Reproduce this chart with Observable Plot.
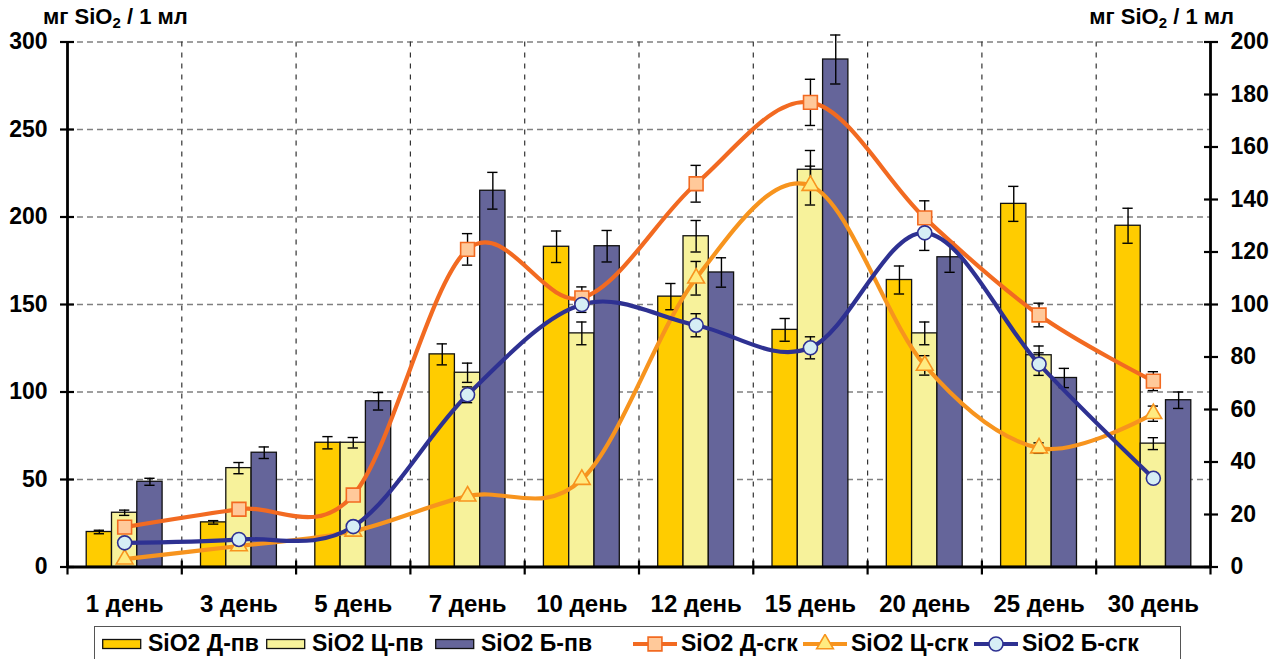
<!DOCTYPE html>
<html>
<head>
<meta charset="utf-8">
<script src="https://cdn.jsdelivr.net/npm/d3@7"></script>
<script src="https://cdn.jsdelivr.net/npm/@observablehq/plot@0.6"></script>
<style>
  html, body { margin: 0; padding: 0; background: #fff; }
  body { font-family: Arial, "Liberation Sans", sans-serif; }
  #wrap { position: relative; width: 1279px; height: 659px; overflow: hidden; }
  .ttl { position: absolute; font-weight: bold; font-size: 22px; color: #000; white-space: nowrap; }
  .ttl sub { font-size: 15px; vertical-align: -4px; line-height: 0; }
  #legend { position: absolute; left: 94px; top: 626px; width: 1087px; height: 50px; border: 1px solid #555; box-sizing: border-box; }
  .li { position: absolute; top: 0; height: 33px; display: flex; align-items: center; white-space: nowrap; font-weight: bold; font-size: 23px; }
</style>
</head>
<body>
<div id="wrap">
  <div class="ttl" style="left:43px; top:4px;">мг SiO<sub>2</sub> / 1 мл</div>
  <div class="ttl" style="right:45px; top:4px;">мг SiO<sub>2</sub> / 1 мл</div>
  <div id="chart"></div>
  <div id="legend"></div>
</div>
<script>
// ---- data ----
const categories = ["1 день","3 день","5 день","7 день","10 день","12 день","15 день","20 день","25 день","30 день"];

// bars (left axis, 0-300)
const dPv    = [20, 25.5, 71, 121.5, 183, 154.5, 135.5, 164, 207.5, 195];
const dPvErr = [1, 1, 3.5, 6, 9, 7.5, 6.5, 8, 10, 10];
const cPv    = [31, 56.5, 71, 111, 133.5, 189, 227, 133.5, 121, 70.5];
const cPvErr = [1.5, 3.2, 3, 5.5, 6.5, 9, 11, 6.5, 5.3, 3.4];
const bPv    = [48.7, 65.3, 94.7, 215, 183.3, 168.3, 290, 177, 108, 95.3];
const bPvErr = [2, 3.3, 5, 10.5, 9, 8.4, 14, 8.6, 5.5, 4.7];

// lines (right axis, 0-200)
const dSgk    = [15.2, 22, 27.4, 121, 102.5, 146, 177, 133, 96, 70.8];
const dSgkErr = [0, 0, 0, 6, 4.2, 7, 8.8, 6.5, 4.5, 3.6];
const cSgk    = [3, 8, 13.6, 27, 33.3, 110, 145.3, 76.8, 45.3, 58.4];
const cSgkErr = [0, 0, 0, 0, 0, 6.4, 7.4, 3.7, 2, 2.9];
const bSgk    = [9.2, 10.5, 15.4, 65.6, 100, 92.1, 83.5, 127.3, 77.3, 33.8];
const bSgkErr = [0, 0, 0, 3, 3, 4.4, 4.2, 6.7, 4.3, 1];

const leftTicks  = [0, 50, 100, 150, 200, 250, 300];
const rightTicks = [0, 20, 40, 60, 80, 100, 120, 140, 160, 180, 200];
const legendLabels = ["SiO2 Д-пв","SiO2 Ц-пв","SiO2 Б-пв","SiO2 Д-сгк","SiO2 Ц-сгк","SiO2 Б-сгк"];

// ---- styling ----
const K = 300 / 200;      // right axis -> left axis units
const BW = 0.2213;        // bar width in category units
const CAP = 0.045;        // error-bar cap half width
const idx = d3.range(categories.length);

const bars = [
  {vals: dPv, err: dPvErr, k: -1, fill: "#FFCC00"},
  {vals: cPv, err: cPvErr, k:  0, fill: "#F7F29B"},
  {vals: bPv, err: bPvErr, k:  1, fill: "#65659A"}
];
const lines = [
  {vals: dSgk, err: dSgkErr, stroke: "#F26A21", fill: "#FFC99A", symbol: "square",   r: 7.8},
  {vals: cSgk, err: cSgkErr, stroke: "#F7941E", fill: "#FFEB80", symbol: "triangle", r: 6.2},
  {vals: bSgk, err: bSgkErr, stroke: "#2E3192", fill: "#D6EEF5", symbol: "circle",   r: 7}
];

const marks = [];
// grid
marks.push(Plot.ruleY(leftTicks.filter(v => v > 0), {stroke: "#808080", strokeWidth: 1.4, strokeDasharray: "6,4"}));
marks.push(Plot.ruleX(d3.range(0.5, 9, 1), {stroke: "#333", strokeWidth: 1.2, strokeDasharray: "5,6"}));

// bars + error bars
for (const s of bars) {
  const cx = i => i + s.k * BW;
  marks.push(Plot.rectY(idx, {x1: i => cx(i) - BW / 2, x2: i => cx(i) + BW / 2, y1: 0, y2: i => s.vals[i],
    fill: s.fill, stroke: "#111", strokeWidth: 1.3}));
  marks.push(Plot.ruleX(idx, {x: cx, y1: i => s.vals[i] - s.err[i], y2: i => s.vals[i] + s.err[i], stroke: "#000", strokeWidth: 1.4}));
  marks.push(Plot.ruleY(idx, {y: i => s.vals[i] + s.err[i], x1: i => cx(i) - CAP, x2: i => cx(i) + CAP, stroke: "#000", strokeWidth: 1.4}));
  marks.push(Plot.ruleY(idx, {y: i => s.vals[i] - s.err[i], x1: i => cx(i) - CAP, x2: i => cx(i) + CAP, stroke: "#000", strokeWidth: 1.4}));
}

// lines
for (const s of lines) {
  marks.push(Plot.line(idx, {x: i => i, y: i => s.vals[i] * K, curve: "cardinal", stroke: s.stroke, strokeWidth: 4.2}));
}
for (const s of lines) {
  const e = idx.filter(i => s.err[i] > 0);
  marks.push(Plot.ruleX(e, {x: i => i, y1: i => (s.vals[i] - s.err[i]) * K, y2: i => (s.vals[i] + s.err[i]) * K, stroke: "#000", strokeWidth: 1.4}));
  marks.push(Plot.ruleY(e, {y: i => (s.vals[i] + s.err[i]) * K, x1: i => i - CAP, x2: i => i + CAP, stroke: "#000", strokeWidth: 1.4}));
  marks.push(Plot.ruleY(e, {y: i => (s.vals[i] - s.err[i]) * K, x1: i => i - CAP, x2: i => i + CAP, stroke: "#000", strokeWidth: 1.4}));
}
for (const s of lines) {
  marks.push(Plot.dot(idx, {x: i => i, y: i => s.vals[i] * K, symbol: s.symbol, r: s.r, fill: s.fill, stroke: s.stroke, strokeWidth: 1.6}));
}

// axes
marks.push(Plot.axisY(leftTicks, {anchor: "left", tickSize: 14, dx: 7, tickPadding: 13, strokeWidth: 2.2,
  fontSize: 23, fontWeight: "bold", fill: "#000", label: null}));
marks.push(Plot.axisY(rightTicks.map(v => v * K), {anchor: "right", tickSize: 14, dx: -7, tickPadding: 13, strokeWidth: 2.2,
  tickFormat: v => String(Math.round(v / K)), fontSize: 23, fontWeight: "bold", fill: "#000", label: null}));
marks.push(Plot.axisX(d3.range(-0.5, 10, 1), {anchor: "bottom", tickSize: 14, dy: -6, strokeWidth: 2.2, tickFormat: () => "", label: null}));
marks.push(Plot.axisX(idx, {anchor: "bottom", tickSize: 0, tickPadding: 28, tickFormat: i => categories[i],
  fontSize: 24, fontWeight: "bold", fill: "#000", label: null}));
marks.push(Plot.ruleX([-0.5, 9.5], {stroke: "#000", strokeWidth: 2.8}));
marks.push(Plot.ruleY([0], {stroke: "#000", strokeWidth: 2.8}));

const chart = Plot.plot({
  width: 1279, height: 620,
  marginLeft: 67, marginRight: 69, marginTop: 41.5, marginBottom: 53.5,
  style: {fontFamily: 'Arial, "Liberation Sans", sans-serif', background: "#fff", overflow: "visible"},
  x: {type: "linear", domain: [-0.5, 9.5], axis: null},
  y: {type: "linear", domain: [0, 300], axis: null},
  marks
});
document.getElementById("chart").appendChild(chart);

// legend
const legendX = [102, 266, 435, 633, 803, 974];
const lg = document.getElementById("legend");
legendLabels.forEach((lab, j) => {
  const it = document.createElement("div");
  it.className = "li";
  it.style.left = (legendX[j] - 95) + "px";
  let svg;
  if (j < 3) {
    const b = bars[j];
    svg = `<svg width="46" height="12"><rect x="0.7" y="1.5" width="38" height="9" fill="${b.fill}" stroke="#111" stroke-width="1.3"/></svg>`;
  } else {
    const l = lines[j - 3];
    const sym = d3.symbol(l.symbol === "square" ? d3.symbolSquare : l.symbol === "triangle" ? d3.symbolTriangle : d3.symbolCircle, Math.PI * l.r * l.r)();
    svg = `<svg width="48" height="20"><line x1="0" x2="44" y1="10" y2="10" stroke="${l.stroke}" stroke-width="4.2"/><path d="${sym}" transform="translate(22,10)" fill="${l.fill}" stroke="${l.stroke}" stroke-width="1.6"/></svg>`;
  }
  it.innerHTML = svg + `<span>${lab}</span>`;
  lg.appendChild(it);
});
</script>
</body>
</html>
